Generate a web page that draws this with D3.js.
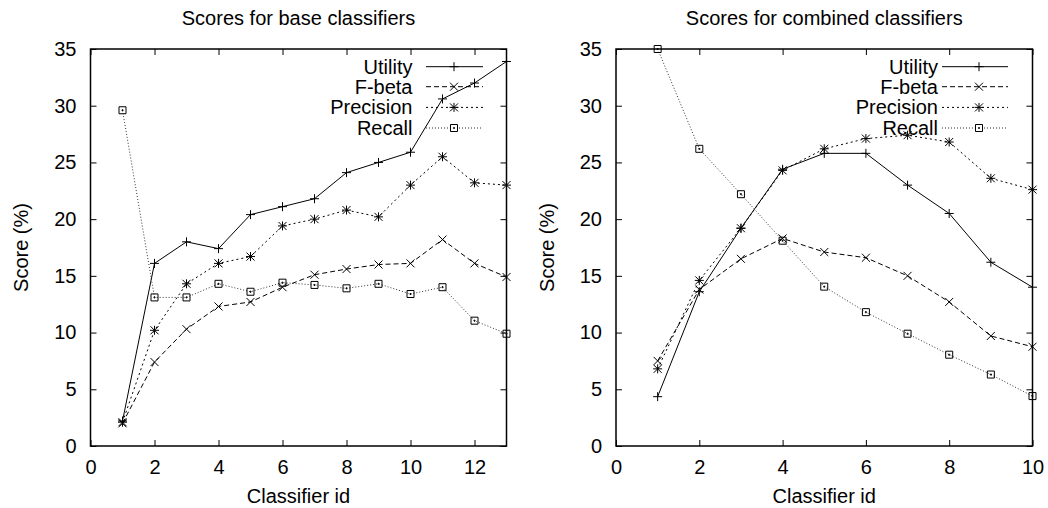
<!DOCTYPE html>
<html><head><meta charset="utf-8">
<script src="https://cdn.jsdelivr.net/npm/d3@7"></script>
<style>
body{margin:0;background:#fff;}
text{font-family:"Liberation Sans",Arial,sans-serif;font-size:20px;fill:#000;}
</style></head>
<body><svg id="c" width="1048" height="508"></svg>
<script>
// ---- data ----
const seriesNames = ["Utility", "F-beta", "Precision", "Recall"];
const yTicks = [0, 5, 10, 15, 20, 25, 30, 35];

const baseIds = [1,2,3,4,5,6,7,8,9,10,11,12,13];
const baseUtility   = [2.2,16.1,18.0,17.4,20.4,21.1,21.8,24.1,25.0,25.9,30.6,32.0,33.9];
const baseFbeta     = [2.0,7.4,10.3,12.3,12.7,14.0,15.1,15.6,16.0,16.1,18.2,16.1,14.9];
const basePrecision = [2.1,10.2,14.3,16.1,16.7,19.4,20.0,20.8,20.2,23.0,25.5,23.2,23.0];
const baseRecall    = [29.6,13.1,13.1,14.3,13.6,14.4,14.2,13.9,14.3,13.4,14.0,11.05,9.9];
const baseXTicks = [0,2,4,6,8,10,12];

const combIds = [1,2,3,4,5,6,7,8,9,10];
const combUtility   = [4.35,13.6,19.2,24.4,25.8,25.8,23.0,20.5,16.2,14.0];
const combFbeta     = [7.5,13.8,16.5,18.3,17.1,16.6,15.0,12.7,9.7,8.75];
const combPrecision = [6.8,14.6,19.2,24.3,26.2,27.1,27.4,26.8,23.6,22.6];
const combRecall    = [35.0,26.2,22.2,18.1,14.05,11.8,9.9,8.05,6.3,4.4];
const combXTicks = [0,2,4,6,8,10];

// ---- styles ----
const styles = [
  {dash:null, marker:"plus", color:"#000"},
  {dash:"5,3", marker:"cross", color:"#000"},
  {dash:"2,3", marker:"star", color:"#000"},
  {dash:"1,2", marker:"square", color:"#333"}
];
function markerPath(type){
  const p = d3.path();
  if(type==="plus"||type==="star"){p.moveTo(-4.5,0);p.lineTo(4.5,0);p.moveTo(0,-4.5);p.lineTo(0,4.5);}
  if(type==="cross"||type==="star"){p.moveTo(-4,-4);p.lineTo(4,4);p.moveTo(-4,4);p.lineTo(4,-4);}
  if(type==="square"){p.rect(-3.5,-3.5,7,7);p.rect(-0.5,-0.5,1,1);}
  return p.toString();
}

const svg = d3.select("#c");

function panel(cfg){
  const x = d3.scaleLinear().domain([0, cfg.xmax]).range([cfg.left, cfg.right]);
  const y = d3.scaleLinear().domain([0, 35]).range([446, 49]);
  const g = svg.append("g");

  const ax = (gen, tr, labels) => {
    const a = g.append("g").attr("transform", tr).call(gen);
    a.select(".domain").remove();
    a.selectAll("line").attr("stroke","#000").attr("stroke-width",1);
    a.selectAll("text").style("font-size","20px").attr("fill","#000");
    if(!labels) a.selectAll("text").remove();
    a.attr("font-family",null).attr("font-size",null);
  };
  ax(d3.axisLeft(y).tickValues(yTicks).tickSizeInner(-6).tickSizeOuter(0).tickPadding(14), `translate(${cfg.left},0)`, true);
  ax(d3.axisRight(y).tickValues(yTicks).tickSizeInner(-6).tickSizeOuter(0), `translate(${cfg.right},0)`, false);
  ax(d3.axisBottom(x).tickValues(cfg.xticks).tickSizeInner(-6).tickSizeOuter(0).tickPadding(14), `translate(0,446)`, true);
  ax(d3.axisTop(x).tickValues(cfg.xticks).tickSizeInner(-6).tickSizeOuter(0), `translate(0,49)`, false);

  g.append("rect").attr("x",cfg.left).attr("y",49).attr("width",cfg.right-cfg.left).attr("height",446-49)
    .attr("fill","none").attr("stroke","#000").attr("stroke-width",1.5);

  g.append("text").attr("x",(cfg.left+cfg.right)/2).attr("y",25).attr("text-anchor","middle").text(cfg.title);
  g.append("text").attr("x",(cfg.left+cfg.right)/2).attr("y",503).attr("text-anchor","middle").text("Classifier id");
  g.append("text").attr("transform",`translate(${cfg.left-62.5},247.5) rotate(-90)`).attr("text-anchor","middle").text("Score (%)");

  const line = d3.line().x((d,i)=>x(cfg.ids[i])).y(d=>y(d));
  cfg.series.forEach((vals, k) => {
    const st = styles[k];
    g.append("path").attr("d", line(vals)).attr("fill","none").attr("stroke",st.color)
      .attr("stroke-width",1).attr("stroke-dasharray",st.dash);
    g.selectAll(null).data(vals).enter().append("path")
      .attr("transform",(d,i)=>`translate(${x(cfg.ids[i])},${y(d)})`)
      .attr("d", markerPath(st.marker)).attr("fill","none").attr("stroke","#000").attr("stroke-width",1);
  });

  // legend
  const rowsY = [66.7, 86.7, 107.4, 128];
  seriesNames.forEach((name,k)=>{
    const st = styles[k];
    const ry = rowsY[k];
    g.append("text").attr("x",cfg.legText).attr("y",ry+7).attr("text-anchor","end").text(name);
    g.append("line").attr("x1",cfg.legL1).attr("x2",cfg.legL2).attr("y1",ry).attr("y2",ry)
      .attr("stroke",st.color).attr("stroke-width",1).attr("stroke-dasharray",st.dash);
    g.append("path").attr("transform",`translate(${cfg.legM},${ry})`).attr("d",markerPath(st.marker))
      .attr("fill","#fff").attr("stroke","#000").attr("stroke-width",1);
  });
}

panel({left:90.5, right:506.5, xmax:13, xticks:baseXTicks, ids:baseIds,
  series:[baseUtility, baseFbeta, basePrecision, baseRecall],
  title:"Scores for base classifiers", legText:412.5, legL1:426, legL2:483, legM:454});
panel({left:616, right:1032.5, xmax:10, xticks:combXTicks, ids:combIds,
  series:[combUtility, combFbeta, combPrecision, combRecall],
  title:"Scores for combined classifiers", legText:938, legL1:942, legL2:1008, legM:979});
</script></body></html>
